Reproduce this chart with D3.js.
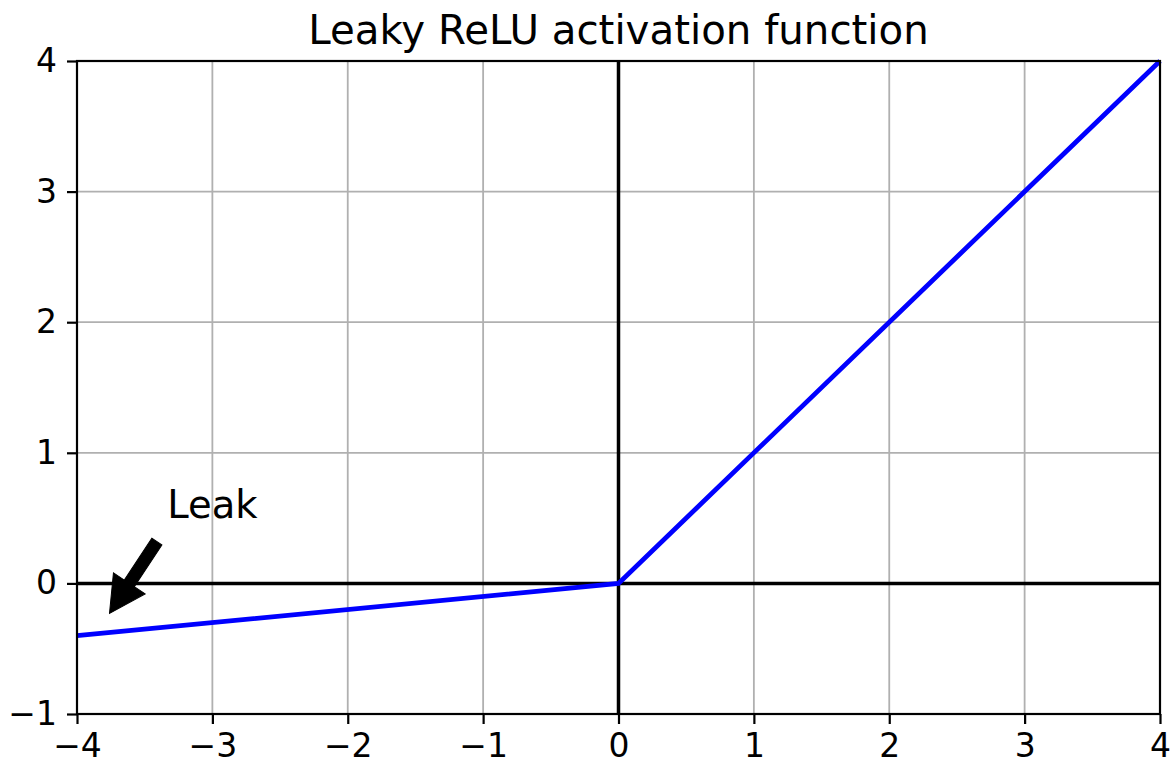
<!DOCTYPE html>
<html>
<head>
<meta charset="utf-8">
<script src="https://cdn.jsdelivr.net/npm/d3@7"></script>
<style>
  html, body { margin: 0; padding: 0; background: #fff; }
  svg { display: block; font-family: "DejaVu Sans", sans-serif; }
</style>
</head>
<body>
<svg id="chart" width="1176" height="762"></svg>
<script>
// Leaky ReLU curve vertices
const curveX = [-4, 0, 4];
const curveY = [-0.4, 0, 4];

// Axis ticks
const xTicks = [-4, -3, -2, -1, 0, 1, 2, 3, 4];
const yTicks = [-1, 0, 1, 2, 3, 4];

// Annotation: label anchor and arrow (tail -> head) in data units
const leakLabel = ["Leak"];
const leakLabelPos = [-3.0, 0.5];
const arrowTail = [-3.41, 0.32];
const arrowHead = [-3.76, -0.23];

const svg = d3.select("#chart");
const margin = { left: 77, right: 16, top: 61, bottom: 48 };
const W = 1176, H = 762;

const x = d3.scaleLinear().domain([-4, 4]).range([margin.left, W - margin.right]);
const y = d3.scaleLinear().domain([-1, 4]).range([H - margin.bottom, margin.top]);

const fmt = d => (d < 0 ? "\u2212" + Math.abs(d) : String(d));

// Grid
const grid = svg.append("g");
grid.selectAll("line.gx").data(xTicks).join("line")
  .attr("x1", d => x(d)).attr("x2", d => x(d))
  .attr("y1", y(-1)).attr("y2", y(4))
  .attr("stroke", "#b0b0b0").attr("stroke-width", 1.8);
grid.selectAll("line.gy").data(yTicks).join("line")
  .attr("y1", d => y(d)).attr("y2", d => y(d))
  .attr("x1", x(-4)).attr("x2", x(4))
  .attr("stroke", "#b0b0b0").attr("stroke-width", 1.8);

// Zero axes
svg.append("line")
  .attr("x1", x(-4)).attr("x2", x(4)).attr("y1", y(0)).attr("y2", y(0))
  .attr("stroke", "#000").attr("stroke-width", 3.5);
svg.append("line")
  .attr("x1", x(0)).attr("x2", x(0)).attr("y1", y(-1)).attr("y2", y(4))
  .attr("stroke", "#000").attr("stroke-width", 3.5);

// Leaky ReLU line
const pts = curveX.map((d, i) => [d, curveY[i]]);
svg.append("path")
  .datum(pts)
  .attr("d", d3.line().x(d => x(d[0])).y(d => y(d[1])))
  .attr("fill", "none").attr("stroke", "#0000ff").attr("stroke-width", 4.8)
  .attr("stroke-linejoin", "miter");

// Axes
const xAxis = d3.axisBottom(x).tickValues(xTicks).tickFormat(fmt).tickSize(10).tickPadding(10);
const yAxis = d3.axisLeft(y).tickValues(yTicks).tickFormat(fmt).tickSize(10).tickPadding(10);

const gx = svg.append("g").attr("transform", `translate(0,${y(-1)})`).call(xAxis);
const gy = svg.append("g").attr("transform", `translate(${x(-4)},0)`).call(yAxis);
[gx, gy].forEach(g => {
  g.select(".domain").remove();
  g.selectAll(".tick line").attr("stroke", "#000").attr("stroke-width", 2.2);
  g.selectAll(".tick text").attr("fill", "#000").attr("font-size", 33)
    .attr("font-family", "DejaVu Sans, sans-serif");
});

// Frame
svg.append("rect")
  .attr("x", x(-4)).attr("y", y(4))
  .attr("width", x(4) - x(-4)).attr("height", y(-1) - y(4))
  .attr("fill", "none").attr("stroke", "#000").attr("stroke-width", 2.2);

// Title
svg.append("text")
  .attr("x", (x(-4) + x(4)) / 2).attr("y", 44)
  .attr("text-anchor", "middle").attr("font-size", 40.3)
  .attr("fill", "#000")
  .text("Leaky ReLU activation function");

// Annotation arrow (filled shaft + head)
const tx = x(arrowTail[0]), ty = y(arrowTail[1]);
const hx = x(arrowHead[0]), hy = y(arrowHead[1]);
const len = Math.hypot(hx - tx, hy - ty);
const ang = Math.atan2(hy - ty, hx - tx) * 180 / Math.PI;
const shaftW = 12, headW = 38, headL = 36;
const arrowPoly = [
  [0, -shaftW / 2], [len - headL, -shaftW / 2], [len - headL, -headW / 2],
  [len, 0],
  [len - headL, headW / 2], [len - headL, shaftW / 2], [0, shaftW / 2]
];
svg.append("polygon")
  .attr("points", arrowPoly.map(p => p.join(",")).join(" "))
  .attr("transform", `translate(${tx},${ty}) rotate(${ang})`)
  .attr("fill", "#000").attr("stroke", "#000").attr("stroke-width", 1)
  .attr("stroke-linejoin", "miter");

svg.selectAll("text.leak").data(leakLabel).join("text")
  .attr("class", "leak")
  .attr("x", x(leakLabelPos[0])).attr("y", y(leakLabelPos[1]))
  .attr("text-anchor", "middle").attr("font-size", 38.5).attr("fill", "#000")
  .text(d => d);
</script>
</body>
</html>
